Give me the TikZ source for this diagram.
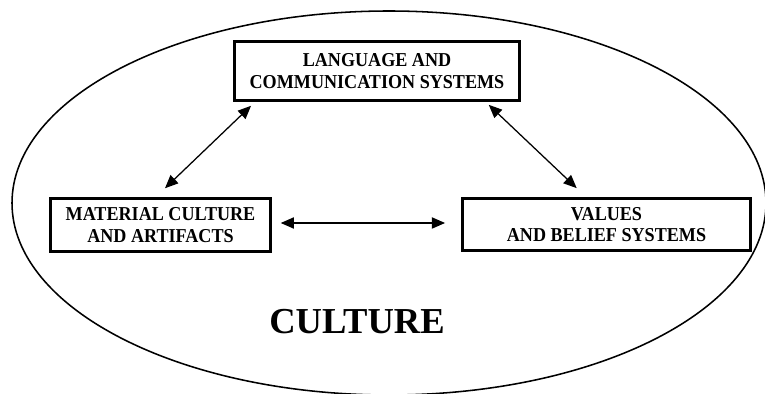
\documentclass[tikz,border=0pt]{standalone}
\usepackage{fontspec}
\setmainfont{Liberation Serif}
\newfontfamily\boxfont[FakeStretch=0.92]{Liberation Serif}
\usepackage{tikz}
\usetikzlibrary{arrows.meta, positioning, calc}
\tikzset{
  block/.style = {draw, line width=2.6pt, align=center, inner sep=2pt,
    font=\boxfont\bfseries\fontsize{14}{15.4}\selectfont},
  arrow/.style = {{Triangle[length=3.3mm,width=2.8mm]}-{Triangle[length=3.3mm,width=2.8mm]}, line width=0.9pt}
}

\begin{document}
\begin{tikzpicture}
  \useasboundingbox (0,0) rectangle (19.125,-9.85);
  \tikzset{
    cultureStyle/.style={font=\bfseries\fontsize{26}{30}\selectfont}
  }

  \draw[line width=1.1pt] (9.725,-5.075) ellipse (9.425 and 4.8);

  \node[block, minimum width=7.125cm, minimum height=1.475cm] (lang) at (9.425,-1.775) {LANGUAGE AND\\COMMUNICATION SYSTEMS};
  \node[block, minimum width=5.5cm, minimum height=1.33cm] (mat) at (4.0125,-5.625) {MATERIAL CULTURE\\AND ARTIFACTS};
  \node[block, minimum width=7.2cm, minimum height=1.3cm] (vals) at (15.1625,-5.6125) {VALUES\\AND BELIEF SYSTEMS};

  \node[cultureStyle] (culture) at (8.925,-8.05) {CULTURE};

  \draw[arrow, shorten <=0.125cm, shorten >=0.3cm] ([xshift=0.55cm]lang.south west) -- ([xshift=-0.105cm]mat.north);
  \draw[arrow, shorten <=0.09cm, shorten >=0.31cm] ([xshift=-0.88cm]lang.south east) -- ([xshift=-0.52cm]vals.north);
  \draw[arrow, shorten <=0.21cm, shorten >=0.39cm] ([yshift=0.05cm]mat.east) -- ([yshift=0.05cm]mat.east -| vals.west);
\end{tikzpicture}
\end{document}
